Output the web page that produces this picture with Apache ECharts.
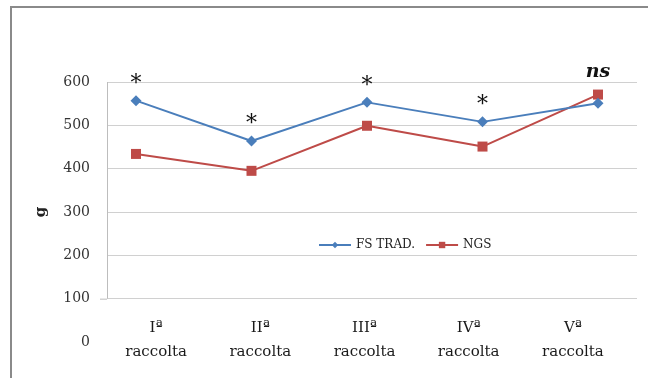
<!DOCTYPE html>
<html><head><meta charset="utf-8">
<script src="https://cdn.jsdelivr.net/npm/echarts@6/dist/echarts.min.js"></script>
<style>html,body{margin:0;padding:0;background:#fff}#c{width:648px;height:378px}</style>
</head><body><div id="c"></div>
<script>
const categories = ['I\u00aa\nraccolta', 'II\u00aa\nraccolta', 'III\u00aa\nraccolta', 'IV\u00aa\nraccolta', 'V\u00aa\nraccolta'];
const fsTrad = [557, 464, 553, 508, 551];
const ngs = [434, 395, 499, 451, 571];
const signif = ['*', '*', '*', '*', 'ns'];
const yTicks = [0, 100, 200, 300, 400, 500, 600];

const FONT = 'DejaVu Serif';
const chart = echarts.init(document.getElementById('c'), null, {renderer: 'canvas'});

const blueData = fsTrad.map((v, i) => ({
  value: v,
  label: signif[i] === 'ns'
    ? {show: true, formatter: signif[i], position: 'top', distance: 16, fontSize: 19, fontStyle: 'italic', fontWeight: 'bold', color: '#111', fontFamily: FONT}
    : {show: true, formatter: signif[i], position: 'top', distance: 0, fontSize: 22, color: '#111', fontFamily: FONT}
}));

chart.setOption({
  animation: false,
  backgroundColor: '#fff',
  grid: [
    {left: 107, right: 11, top: 82, bottom: 36},
    {left: 136, right: 50, top: 82, bottom: 36},
    {left: 104, right: 23, top: 82, bottom: 36}
  ],
  legend: {
    left: 313, top: 234, itemWidth: 32, itemHeight: 8, itemGap: 10,
    textStyle: {fontFamily: FONT, fontSize: 12, color: '#222'},
    data: ['FS TRAD.', 'NGS']
  },
  xAxis: [
    {gridIndex: 0, type: 'category', data: categories, show: false},
    {gridIndex: 1, type: 'category', data: categories, boundaryGap: false, show: false},
    {gridIndex: 2, type: 'category', data: categories, boundaryGap: true,
     axisLine: {show: false}, axisTick: {show: false}, splitLine: {show: false},
     axisLabel: {margin: -26, fontFamily: FONT, fontSize: 15, color: '#1a1a1a', lineHeight: 24}}
  ],
  yAxis: [
    {gridIndex: 0, type: 'value', min: 0, max: 600, interval: 100,
     name: 'g', nameLocation: 'middle', nameRotate: 90, nameGap: 58,
     nameTextStyle: {fontFamily: FONT, fontSize: 15, fontWeight: 'bold', color: '#222'},
     axisLine: {show: false}, axisTick: {show: false},
     axisLabel: {margin: 17, fontFamily: FONT, fontSize: 14, color: '#333',
       formatter: v => yTicks.includes(v) ? String(v) : ''},
     splitLine: {show: true, lineStyle: {width: 1, color: ['rgba(0,0,0,0)', '#d0d0d0', '#d0d0d0', '#d0d0d0', '#d0d0d0', '#d0d0d0', '#d0d0d0']}}},
    {gridIndex: 1, type: 'value', min: 0, max: 600, show: false, splitLine: {show: false}},
    {gridIndex: 2, type: 'value', min: 0, max: 600, show: false, splitLine: {show: false}}
  ],
  series: [
    {name: 'FS TRAD.', type: 'line', xAxisIndex: 1, yAxisIndex: 1, data: blueData,
     symbol: 'diamond', symbolSize: 11, itemStyle: {color: '#4a7ebb'},
     lineStyle: {width: 2, color: '#4a7ebb'}},
    {name: 'NGS', type: 'line', xAxisIndex: 1, yAxisIndex: 1, data: ngs, z: 1,
     symbol: 'rect', symbolSize: 10, itemStyle: {color: '#be4b48'},
     lineStyle: {width: 2, color: '#be4b48'}, label: {show: false}}
  ]
});

const top600 = chart.convertToPixel({yAxisIndex: 0}, 600);
const y100 = chart.convertToPixel({yAxisIndex: 0}, 100);
chart.setOption({
  graphic: [
    {type: 'rect', shape: {x: 11, y: 7, width: 700, height: 500}, style: {fill: 'none', stroke: '#8a8a8a', lineWidth: 2}, silent: true},
    {type: 'line', shape: {x1: 107.5, y1: top600, x2: 107.5, y2: y100}, style: {stroke: '#bdbdbd', lineWidth: 1}, silent: true},
    {type: 'line', shape: {x1: 100, y1: y100 + 0.5, x2: 107, y2: y100 + 0.5}, style: {stroke: '#bdbdbd', lineWidth: 1}, silent: true}
  ]
});
</script>
</body></html>
